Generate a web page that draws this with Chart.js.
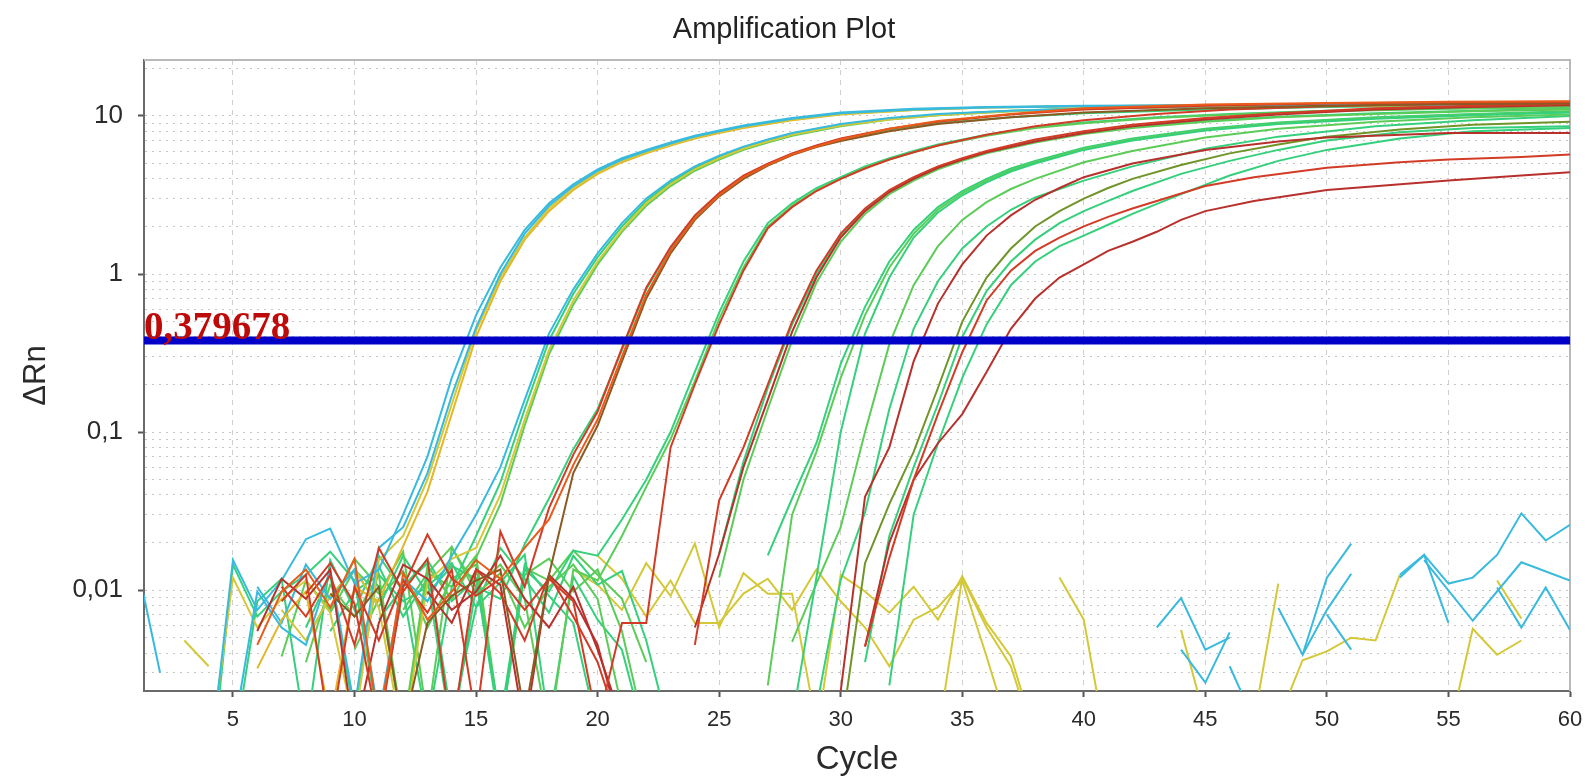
<!DOCTYPE html>
<html>
<head>
<meta charset="utf-8">
<title>Amplification Plot</title>
<script src="https://cdn.jsdelivr.net/npm/chart.js@4.4.1/dist/chart.umd.min.js"></script>
<style>
  html, body { margin: 0; padding: 0; background: #ffffff; }
  canvas { display: block; }
</style>
</head>
<body>
<canvas id="ampChart" width="1585" height="783"></canvas>
<script>
// ---- axis values ----
const xTicks = [5, 10, 15, 20, 25, 30, 35, 40, 45, 50, 55, 60];
const yGrid = [0.003, 0.004, 0.005, 0.006, 0.007, 0.008, 0.009,
               0.01, 0.02, 0.03, 0.04, 0.05, 0.06, 0.07, 0.08, 0.09,
               0.1, 0.2, 0.3, 0.4, 0.5, 0.6, 0.7, 0.8, 0.9,
               1, 2, 3, 4, 5, 6, 7, 8, 9, 10, 20];
const yTickValues = [0.01, 0.1, 1, 10];
const yTickLabels = ['0,01', '0,1', '1', '10'];
const threshold = 0.379678;
const thresholdLabel = '0,379678';

// ---- curves: [cycle, deltaRn] ----
// group A (Ct ~14.7)
const cyanA1 = [[4,.0007],[5,.0155],[6,.0075],[7,.0115],[8,.021],[9,.0245],[10,.011],[11,.0135],[12,.03],[13,.07],[14,.22],[15,.55],[16,1.1],[17,1.9],[18,2.8],[19,3.7],[20,4.6],[21,5.4],[22,6.1],[23,6.8],[24,7.5],[25,8.1],[26,8.7],[28,9.7],[30,10.5],[33,11.1],[36,11.4],[40,11.6],[45,11.7],[50,11.8],[55,11.8],[60,11.9]];
const cyanA2 = [[5,.0012],[6,.0098],[7,.0058],[8,.0045],[9,.0135],[10,.0018],[11,.0185],[12,.025],[13,.055],[14,.17],[15,.46],[16,1.0],[17,1.8],[18,2.7],[19,3.6],[20,4.5],[21,5.3],[22,6.0],[23,6.7],[24,7.4],[25,8.0],[26,8.6],[28,9.6],[30,10.4],[33,11.0],[36,11.3],[40,11.5],[45,11.7],[50,11.8],[55,11.8],[60,11.9]];
const yellowA3 = [[4,.0008],[5,.012],[6,.0058],[7,.0088],[8,.0115],[9,.0072],[10,.0014],[11,.0155],[12,.022],[13,.05],[14,.15],[15,.44],[16,.95],[17,1.7],[18,2.6],[19,3.5],[20,4.4],[21,5.2],[22,5.9],[23,6.6],[24,7.3],[25,7.9],[26,8.5],[28,9.5],[30,10.3],[33,10.9],[36,11.3],[40,11.5],[45,11.6],[50,11.7],[55,11.8],[60,11.8]];
const goldA4 = [[6,.0032],[7,.0065],[8,.0098],[9,.0015],[10,.0105],[11,.0085],[12,.019],[13,.042],[14,.13],[15,.4],[16,.9],[17,1.65],[18,2.5],[19,3.4],[20,4.3],[21,5.1],[22,5.8],[23,6.5],[24,7.2],[25,7.8],[26,8.4],[28,9.4],[30,10.2],[33,10.9],[36,11.3],[40,11.5],[45,11.7],[50,11.8],[55,11.9],[60,11.9]];

// group B (Ct ~18.1)
const cyanB1 = [[6,.0105],[7,.0062],[8,.0145],[9,.0088],[10,.0135],[11,.0016],[12,.0118],[13,.0085],[14,.0165],[15,.03],[16,.06],[17,.16],[18,.42],[19,.8],[20,1.35],[21,2.1],[22,3.0],[23,3.9],[24,4.8],[25,5.6],[26,6.4],[27,7.1],[28,7.8],[30,8.9],[32,9.7],[34,10.3],[37,10.8],[40,11.1],[45,11.5],[50,11.7],[55,11.8],[60,11.9]];
const greenB2 = [[5,.0009],[6,.0085],[7,.0118],[8,.0012],[9,.0155],[10,.0075],[11,.0165],[12,.0098],[13,.0014],[14,.0105],[15,.022],[16,.048],[17,.14],[18,.38],[19,.75],[20,1.28],[21,2.0],[22,2.9],[23,3.8],[24,4.7],[25,5.5],[26,6.3],[27,7.0],[28,7.7],[30,8.8],[32,9.6],[34,10.2],[37,10.8],[40,11.2],[45,11.5],[50,11.7],[55,11.8],[60,11.9]];
const yellowB3 = [[7,.0075],[8,.0048],[9,.0092],[10,.0135],[11,.0078],[12,.0011],[13,.0112],[14,.0158],[15,.0185],[16,.04],[17,.12],[18,.33],[19,.68],[20,1.2],[21,1.9],[22,2.8],[23,3.7],[24,4.6],[25,5.4],[26,6.2],[27,6.9],[28,7.6],[30,8.7],[32,9.5],[34,10.1],[37,10.7],[40,11.1],[45,11.4],[50,11.6],[55,11.7],[60,11.8]];
const greenB4 = [[8,.0035],[9,.0108],[10,.0068],[11,.0125],[12,.0013],[13,.0142],[14,.0088],[15,.016],[16,.035],[17,.11],[18,.31],[19,.64],[20,1.15],[21,1.85],[22,2.7],[23,3.6],[24,4.5],[25,5.3],[26,6.1],[27,6.8],[28,7.5],[30,8.6],[32,9.5],[34,10.1],[37,10.7],[40,11.1],[45,11.5],[50,11.7],[55,11.8],[60,11.8]];

// group C (Ct ~21.2)
const redC1 = [[7,.0085],[8,.0125],[9,.0012],[10,.0105],[11,.0048],[12,.0115],[13,.0072],[14,.0135],[15,.0015],[16,.0235],[17,.0105],[18,.033],[19,.072],[20,.135],[21,.34],[22,.82],[23,1.48],[24,2.35],[25,3.25],[26,4.2],[27,5.0],[28,5.8],[29,6.5],[30,7.2],[32,8.3],[34,9.2],[37,10.2],[40,11.0],[45,11.6],[50,12.0],[55,12.2],[60,12.3]];
const orangeC2 = [[6,.0045],[7,.0098],[8,.0135],[9,.0078],[10,.0158],[11,.0014],[12,.0128],[13,.0065],[14,.0098],[15,.0155],[16,.0118],[17,.0185],[18,.028],[19,.062],[20,.12],[21,.3],[22,.74],[23,1.4],[24,2.25],[25,3.15],[26,4.1],[27,4.9],[28,5.7],[29,6.4],[30,7.1],[32,8.3],[34,9.3],[37,10.3],[40,11.2],[45,11.8],[50,12.1],[55,12.3],[60,12.4]];
const greenC3 = [[8,.0058],[9,.0125],[10,.0016],[11,.0142],[12,.0068],[13,.0118],[14,.0012],[15,.0105],[16,.0088],[17,.0195],[18,.038],[19,.078],[20,.14],[21,.33],[22,.8],[23,1.45],[24,2.3],[25,3.2],[26,4.15],[27,4.95],[28,5.75],[29,6.45],[30,7.05],[32,8.2],[34,9.0],[37,9.8],[40,10.4],[45,11.0],[50,11.4],[55,11.6],[60,11.7]];
const brownC4 = [[9,.0095],[10,.0068],[11,.0105],[12,.0013],[13,.0062],[14,.0092],[15,.0115],[16,.0135],[17,.0016],[18,.0125],[19,.055],[20,.11],[21,.28],[22,.7],[23,1.35],[24,2.2],[25,3.1],[26,4.0],[27,4.85],[28,5.65],[29,6.35],[30,6.95],[32,8.0],[34,8.9],[37,9.8],[40,10.5],[45,11.2],[50,11.6],[55,11.9],[60,12.0]];

// group D (Ct ~24.7)
const greenD1 = [[4,.0005],[5,.0145],[6,.0068],[7,.0098],[8,.0125],[9,.0175],[10,.0115],[11,.0014],[12,.0105],[13,.0155],[14,.0085],[15,.0118],[16,.0013],[17,.0135],[18,.0098],[19,.0178],[20,.0165],[21,.028],[22,.05],[23,.1],[24,.24],[25,.57],[26,1.2],[27,2.1],[28,2.8],[29,3.5],[30,4.1],[31,4.8],[32,5.4],[33,6.0],[34,6.6],[36,7.6],[38,8.5],[40,9.1],[43,9.8],[46,10.3],[50,10.8],[55,11.2],[60,11.4]];
const greenD2 = [[9,.0072],[10,.0135],[11,.0095],[12,.0175],[13,.0015],[14,.0185],[15,.0105],[16,.0145],[17,.0088],[18,.0012],[19,.0135],[20,.0115],[21,.022],[22,.045],[23,.09],[24,.21],[25,.52],[26,1.1],[27,2.0],[28,2.7],[29,3.4],[30,4.0],[31,4.7],[32,5.3],[33,5.9],[34,6.5],[36,7.5],[38,8.4],[40,9.0],[43,9.7],[46,10.2],[50,10.7],[55,11.1],[60,11.3]];
const redD3 = [[8,.0095],[9,.0148],[10,.0082],[11,.0013],[12,.0105],[13,.0225],[14,.0118],[15,.0092],[16,.0118],[17,.0075],[18,.0118],[19,.0085],[20,.0014],[21,.0062],[22,.0062],[23,.08],[24,.2],[25,.48],[26,1.05],[27,1.95],[28,2.65],[29,3.35],[30,4.0],[31,4.65],[32,5.3],[33,5.9],[34,6.5],[36,7.6],[38,8.6],[40,9.4],[43,10.3],[46,11.0],[50,11.5],[55,11.9],[60,12.1]];

// group E (Ct ~27.8)
const redE1 = [[7,.0105],[8,.0068],[9,.0125],[10,.0045],[11,.0185],[12,.0098],[13,.0158],[14,.0012],[15,.0135],[16,.0095],[17,.0048],[18,.0125],[19,.0068],[20,.0035],[21,.0012],[22,null],[24,.0045],[25,.037],[26,.08],[27,.2],[28,.5],[29,1.05],[30,1.8],[31,2.6],[32,3.4],[33,4.1],[34,4.8],[35,5.4],[36,6.0],[38,7.1],[40,8.0],[42,8.8],[45,9.7],[48,10.4],[52,11.2],[56,11.6],[60,11.9]];
const redE2 = [[6,.0055],[7,.0118],[8,.0088],[9,.0135],[10,.0012],[11,.0062],[12,.0145],[13,.0118],[14,.0075],[15,.0098],[16,.0165],[17,.0088],[18,.0058],[19,.0105],[20,.0042],[21,.0015],[22,null],[24,.0058],[25,.017],[26,.06],[27,.16],[28,.43],[29,.95],[30,1.7],[31,2.5],[32,3.3],[33,4.0],[34,4.7],[35,5.3],[36,5.9],[38,6.9],[40,7.8],[42,8.6],[45,9.5],[48,10.2],[52,11.0],[56,11.4],[60,11.7]];
const greenE3 = [[8,.0048],[9,.0092],[10,.0135],[11,.0078],[12,.0165],[13,.0095],[14,.0142],[15,.0118],[16,.0015],[17,.0145],[18,.0092],[19,.0062],[20,.0013],[21,null],[25,.017],[26,.065],[27,.19],[28,.48],[29,1.0],[30,1.75],[31,2.55],[32,3.35],[33,4.05],[34,4.75],[35,5.35],[36,5.95],[38,6.95],[40,7.8],[42,8.5],[45,9.3],[48,9.9],[52,10.4],[56,10.8],[60,11.1]];
const greenE4 = [[7,.0038],[8,.0115],[9,.0075],[10,.0158],[11,.0105],[12,.0012],[13,.0128],[14,.0188],[15,.0095],[16,.0128],[17,.0058],[18,.0105],[19,.0145],[20,.0088],[21,.0018],[22,null],[25,.012],[26,.05],[27,.14],[28,.38],[29,.88],[30,1.6],[31,2.4],[32,3.2],[33,3.9],[34,4.6],[35,5.2],[36,5.8],[38,6.8],[40,7.7],[42,8.4],[45,9.2],[48,9.8],[52,10.3],[56,10.7],[60,11.0]];

// group F (Ct ~30.6)
const greenF1 = [[9,.0055],[10,.0098],[11,.0125],[12,.0085],[13,.0105],[14,.0148],[15,.0078],[16,.0112],[17,.0168],[18,.0014],[19,.0122],[20,.0065],[21,.0042],[22,.0011],[23,null],[27,.0166],[28,.038],[29,.085],[30,.27],[31,.62],[32,1.2],[33,1.9],[34,2.65],[35,3.35],[36,4.0],[37,4.65],[38,5.2],[40,6.3],[42,7.2],[45,8.3],[48,9.1],[52,9.8],[56,10.3],[60,10.7]];
const greenF2 = [[10,.0042],[11,.0088],[12,.0132],[13,.0058],[14,.0118],[15,.0145],[16,.0013],[17,.0125],[18,.0158],[19,.0098],[20,.0135],[21,.0055],[22,.0012],[23,null],[27,.0025],[28,.03],[29,.075],[30,.22],[31,.55],[32,1.1],[33,1.8],[34,2.55],[35,3.25],[36,3.9],[37,4.55],[38,5.1],[40,6.2],[42,7.1],[45,8.2],[48,9.0],[52,9.7],[56,10.2],[60,10.6]];
const greenF3 = [[11,.0065],[12,.0105],[13,.0148],[14,.0015],[15,.0078],[16,.0185],[17,.0118],[18,.0072],[19,.0165],[20,.0108],[21,.0132],[22,.0048],[23,.0012],[24,null],[28,.0015],[29,.012],[30,.1],[31,.42],[32,.95],[33,1.7],[34,2.45],[35,3.15],[36,3.8],[37,4.45],[38,5.0],[40,6.1],[42,7.0],[45,8.1],[48,8.9],[52,9.6],[56,10.1],[60,10.5]];

// group G (Ct ~32.5)
const greenG1 = [[12,.0075],[13,.0128],[14,.0105],[15,.0165],[16,.0014],[17,.0138],[18,.0115],[19,.0178],[20,.0125],[21,.0088],[22,.0035],[23,null],[28,.0047],[29,.011],[30,.025],[31,.1],[32,.36],[33,.85],[34,1.5],[35,2.2],[36,2.85],[37,3.45],[38,4.0],[40,5.1],[42,6.0],[45,7.3],[48,8.3],[52,9.2],[56,9.8],[60,10.2]];
const redG2 = [[13,.0098],[14,.0062],[15,.0135],[16,.0108],[17,.0013],[18,.0125],[19,.0088],[20,.0045],[21,.0012],[22,null],[30,.0023],[31,.039],[32,.08],[33,.28],[34,.65],[35,1.15],[36,1.75],[37,2.35],[38,2.95],[39,3.5],[40,4.1],[42,5.0],[45,6.1],[48,6.9],[50,7.3],[55,7.8],[60,7.8]];
const greenG3 = [[29,.0018],[30,.0116],[31,.031],[32,.14],[33,.45],[34,.9],[35,1.45],[36,2.0],[37,2.55],[38,3.05],[40,3.9],[42,4.8],[45,6.2],[48,7.4],[52,8.6],[56,9.4],[60,10.0]];

// group H / I (Ct ~34.6 - 36.7)
const oliveH1 = [[30,.0012],[31,.0148],[32,.035],[33,.075],[34,.19],[35,.5],[36,.95],[37,1.45],[38,2.0],[39,2.5],[40,3.0],[41,3.5],[42,4.0],[44,4.9],[46,5.8],[48,6.6],[50,7.4],[53,8.2],[56,8.8],[60,9.2]];
const greenH2 = [[31,.0035],[32,.022],[33,.06],[34,.15],[35,.4],[36,.78],[37,1.2],[38,1.65],[39,2.1],[40,2.5],[41,2.9],[42,3.35],[44,4.3],[46,5.2],[48,6.1],[50,7.0],[53,7.9],[56,8.4],[60,8.6]];
const redI1 = [[31,.0044],[32,.016],[33,.05],[34,.13],[35,.32],[36,.68],[37,1.05],[38,1.4],[39,1.7],[40,2.0],[41,2.3],[42,2.6],[43,2.9],[45,3.6],[47,4.1],[50,4.7],[53,5.1],[55,5.3],[58,5.5],[60,5.7]];
const greenH3 = [[32,.0025],[33,.03],[34,.085],[35,.22],[36,.48],[37,.85],[38,1.2],[39,1.5],[40,1.75],[41,2.05],[42,2.4],[44,3.2],[46,4.2],[48,5.2],[50,6.1],[53,7.2],[56,8.0],[60,8.4]];
const redI2 = [[31,.0044],[32,.02],[33,.05],[34,.085],[35,.13],[36,.24],[37,.45],[38,.7],[39,.95],[40,1.15],[41,1.4],[42,1.6],[43,1.85],[44,2.2],[45,2.5],[47,2.9],[50,3.4],[55,3.9],[58,4.2],[60,4.4]];

// non-amplifying wells (noise)
const noiseCyan = [
  [[1,.016],[2,.003]],
  [[43,.0058],[44,.0089],[45,.0042],[46,.005]],
  [[44,.0042],[45,.0026],[46,.0054]],
  [[46,.0033],[47,.0015]],
  [[48,.0077],[49,.0039],[50,.012],[51,.0197]],
  [[49,.0039],[50,.0075],[51,.0127]],
  [[50,.007],[51,.0042]],
  [[53,.012],[54,.0167],[55,.011],[56,.012],[57,.0167],[58,.0306],[59,.0206],[60,.0259]],
  [[53,.0125],[54,.0167],[55,.0062]],
  [[54,.0155],[56,.0064],[58,.015],[60,.0115]],
  [[57,.0104],[58,.0058],[59,.0104],[60,.0056]]
];
const noiseYellow = [
  [[3,.0048],[4,.0033]],
  [[19,.0135],[20,.0108],[21,.0075],[22,.0148],[23,.0092],[24,.0197],[25,.0058],[26,.0128],[27,.0095],[28,.0095],[29,.0014]],
  [[20,.0165],[21,.0118],[22,.0068],[23,.0115],[24,.0062],[25,.0062],[26,.0095],[27,.0118],[28,.0075],[29,.0135],[30,.0085],[31,.0058],[32,.0033],[33,.0065],[34,.0078],[35,.0115],[36,.0038],[37,.0012]],
  [[29,.0012],[30,.0125],[31,.0098],[32,.0072],[33,.0105],[34,.0065],[35,.0122],[36,.0062],[37,.0038],[38,.0012]],
  [[34,.0012],[35,.012],[36,.0058],[37,.0033],[38,.0011]],
  [[39,.012],[40,.0065],[41,.0009]],
  [[44,.0056],[45,.0015]],
  [[47,.0015],[48,.011]],
  [[48,.0015],[49,.0036],[50,.0041],[51,.005],[52,.0048],[53,.0125]],
  [[55,.0012],[56,.0057],[57,.0039],[58,.0048]],
  [[57,.0115],[58,.0066]]
];

// ---- colours ----
const colCyan = '#38bade';
const colYellow = '#d4c838';
const colGold = '#e4b628';
const colGreen = '#34d07c';
const colLime = '#5ccc58';
const colRed = '#d23c26';
const colOrange = '#ea5a1a';
const colDarkRed = '#b8302c';
const colBrown = '#8a5a22';
const colOlive = '#6f9428';
const colBlue = '#0000c8';

function curve(points, color, width) {
    return {
        data: points.map(p => ({x: p[0], y: p[1]})),
        borderColor: color,
        borderWidth: width || 2,
        pointRadius: 0,
        fill: false,
        tension: 0,
        spanGaps: false
    };
}

// bottom -> top
let layers = [];
noiseYellow.forEach(n => layers.push(curve(n, colYellow, 2)));
noiseCyan.forEach(n => layers.push(curve(n, colCyan, 2)));
layers.push(curve(greenH3, colGreen), curve(greenH2, colGreen), curve(oliveH1, colOlive));
layers.push(curve(greenG3, colGreen), curve(greenG1, colLime));
layers.push(curve(greenF1, colGreen), curve(greenF2, colLime), curve(greenF3, colGreen));
layers.push(curve(greenE3, colGreen), curve(greenE4, colLime));
layers.push(curve(greenD1, colGreen), curve(greenD2, colLime));
layers.push(curve(greenC3, colGreen), curve(greenB2, colGreen), curve(greenB4, colLime));
layers.push(curve(yellowB3, colYellow), curve(cyanB1, colCyan));
layers.push(curve(goldA4, colGold), curve(yellowA3, colYellow), curve(cyanA2, colCyan), curve(cyanA1, colCyan));
layers.push(curve(redI2, colDarkRed), curve(redI1, colRed), curve(redG2, colDarkRed));
layers.push(curve(redE2, colDarkRed), curve(redE1, colRed));
layers.push(curve(redD3, colRed), curve(brownC4, colBrown), curve(redC1, colRed), curve(orangeC2, colOrange));
layers.push({
    data: [{x: 1, y: threshold}, {x: 60, y: threshold}],
    borderColor: colBlue,
    borderWidth: 8,
    pointRadius: 0,
    fill: false
});
// chart.js paints the first dataset last
let datasets = layers.slice().reverse();

function isDecade(v) {
    let l = Math.log10(v);
    return Math.abs(l - Math.round(l)) < 1e-6;
}

const fontSans = 'Liberation Sans, Arial, Helvetica, sans-serif';

const framePlugin = {
    id: 'frame',
    beforeDatasetsDraw(chart) {
        let a = chart.chartArea;
        let c = chart.ctx;
        c.save();
        c.strokeStyle = '#b9b9b9';
        c.lineWidth = 2;
        c.beginPath();
        c.moveTo(a.left, a.top);
        c.lineTo(a.right, a.top);
        c.lineTo(a.right, a.bottom);
        c.stroke();
        c.restore();
    },
    afterDraw(chart) {
        let c = chart.ctx;
        let a = chart.chartArea;
        let y = chart.scales.y.getPixelForValue(threshold);
        c.save();
        c.font = 'bold 39px "Liberation Serif", "Times New Roman", serif';
        c.fillStyle = '#bf0a0a';
        c.textAlign = 'left';
        c.textBaseline = 'alphabetic';
        c.fillText(thresholdLabel, a.left, y - 1);
        c.font = '29px ' + fontSans;
        c.fillStyle = '#222';
        c.textAlign = 'center';
        c.textBaseline = 'middle';
        c.fillText('Amplification Plot', 784, 30);
        c.restore();
    }
};

let ctx = document.getElementById('ampChart').getContext('2d');
new Chart(ctx, {
    type: 'line',
    data: { datasets: datasets },
    plugins: [framePlugin],
    options: {
        responsive: false,
        animation: false,
        events: [],
        layout: { padding: { left: 0, right: 15, top: 60, bottom: 0 } },
        plugins: {
            legend: { display: false },
            tooltip: { enabled: false },
            title: { display: false }
        },
        scales: {
            x: {
                type: 'linear',
                min: 1.34,
                max: 60,
                afterBuildTicks: (axis) => { axis.ticks = xTicks.map(v => ({ value: v })); },
                afterFit: (s) => { s.height = 92; s.paddingLeft = 0; s.paddingRight = 0; },
                ticks: {
                    font: { family: fontSans, size: 22 },
                    color: '#2a2a2a',
                    padding: 10,
                    maxRotation: 0,
                    autoSkip: false,
                    callback: (v) => String(v)
                },
                grid: {
                    color: (c) => (c.tick && c.tick.value >= 60) ? 'rgba(0,0,0,0)' : '#cfcfcf',
                    lineWidth: 1,
                    tickLength: 6,
                    tickColor: '#555',
                    tickWidth: 2,
                    tickBorderDash: []
                },
                border: { color: '#6a6a6a', width: 2, dash: [5, 5] },
                title: {
                    display: true,
                    text: 'Cycle',
                    font: { family: fontSans, size: 33 },
                    color: '#2a2a2a',
                    padding: { top: 0, bottom: 3 }
                }
            },
            y: {
                type: 'logarithmic',
                min: 0.0023,
                max: 22.6,
                afterBuildTicks: (axis) => { axis.ticks = yGrid.map(v => ({ value: v, major: isDecade(v) })); },
                afterFit: (s) => { s.width = 144; s.paddingTop = 0; s.paddingBottom = 0; },
                ticks: {
                    font: { family: fontSans, size: 26 },
                    color: '#2a2a2a',
                    padding: 15,
                    autoSkip: false,
                    callback: (v) => {
                        let i = yTickValues.findIndex(t => Math.abs(t - v) < t * 1e-6);
                        return i >= 0 ? yTickLabels[i] : '';
                    }
                },
                grid: {
                    color: '#c6c6c6',
                    lineWidth: 1,
                    tickLength: 6,
                    tickWidth: 2,
                    tickColor: (c) => (c.tick && isDecade(c.tick.value)) ? '#555' : 'rgba(0,0,0,0)',
                    tickBorderDash: []
                },
                border: { color: '#6a6a6a', width: 2, dash: [2, 5] },
                title: {
                    display: true,
                    text: 'ΔRn',
                    font: { family: fontSans, size: 31 },
                    color: '#2a2a2a',
                    padding: { top: 18, bottom: 0 }
                }
            }
        }
    }
});
</script>
</body>
</html>
